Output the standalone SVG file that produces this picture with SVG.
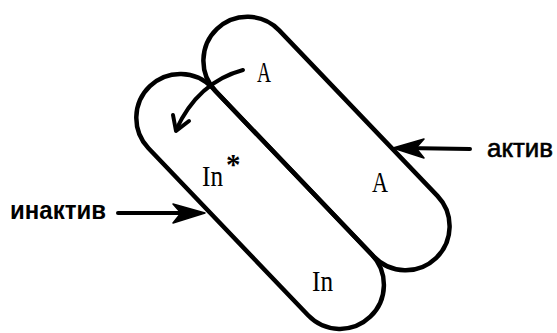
<svg xmlns="http://www.w3.org/2000/svg" width="557" height="333" viewBox="0 0 557 333">
<style>
.cap{fill:none;stroke:#000;stroke-width:4.5}
.ln{fill:none;stroke:#000;stroke-width:4;stroke-linecap:round;stroke-linejoin:round}
.hd{fill:#000;stroke:#000;stroke-width:1.5;stroke-linejoin:round}
.ser{font-family:"Liberation Serif",serif;font-size:29px;fill:#000}
.lbl{font-family:"Liberation Sans",Arial,sans-serif;fill:#000}
</style>
<rect width="557" height="333" fill="#fff"/>
<g id="active-capsule">
<rect class="cap" x="-158.5" y="-44" width="317" height="88" rx="44" transform="translate(326.5,143.5) rotate(46.3)"/>
<text class="ser" x="257" y="82" textLength="14" lengthAdjust="spacingAndGlyphs">A</text>
<text class="ser" x="372" y="192" textLength="16" lengthAdjust="spacingAndGlyphs">A</text>
</g>
<g id="inactive-capsule">
<rect class="cap" x="-159.5" y="-44" width="319" height="88" rx="44" transform="translate(260.1,201.4) rotate(46.3)"/>
<text class="ser" x="202" y="186" textLength="21" lengthAdjust="spacingAndGlyphs">In</text>
<text class="ser" x="226" y="174" font-size="24" font-weight="bold">*</text>
<text class="ser" x="312" y="291" textLength="21" lengthAdjust="spacingAndGlyphs">In</text>
</g>
<g id="connectors">
<path class="ln" d="M243,70 Q198,82 176,130"/>
<path class="ln" d="M173,115 L176,131 L189,121"/>
<path class="ln" d="M470,149 L405,148"/>
<polygon class="hd" points="393,148 424,139 416,148 424,158"/>
<path class="ln" d="M118,213 L190,213"/>
<polygon class="hd" points="205,213 173,204 181,213 173,223"/>
</g>
<g id="label-active">
<text class="lbl" x="487" y="157" font-size="25" stroke="#000" stroke-width="0.6" textLength="66" lengthAdjust="spacingAndGlyphs">актив</text>
</g>
<g id="label-inactive">
<text class="lbl" x="10" y="219" font-size="26" font-weight="bold" textLength="96" lengthAdjust="spacingAndGlyphs">инактив</text>
</g>
</svg>
